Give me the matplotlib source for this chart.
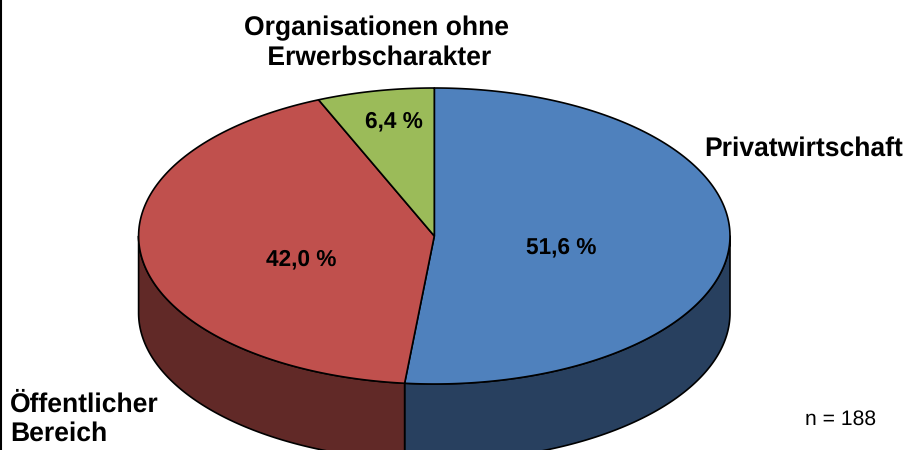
import numpy as np
import matplotlib
matplotlib.use('Agg')
import matplotlib.pyplot as plt

plt.rcParams['font.family'] = ['Liberation Sans', 'DejaVu Sans']
plt.rcParams['text.hinting'] = 'none'

# shares in percent, clockwise from 12 o'clock
categories = ['Privatwirtschaft', 'Öffentlicher\nBereich', 'Organisationen ohne\n Erwerbscharakter']
shares = [51.6, 42.0, 6.4]
share_labels = ['51,6 %', '42,0 %', '6,4 %']
top_colors = ['#4F81BD', '#C0504D', '#9BBB59']
side_colors = ['#28405F', '#612927', '#4E5E2D']
note = 'n = 188'

# pie geometry in pixels
CX, CY = 434.3, 236
RX, RY = 295.7, 148
DEPTH = 77


def ell(t):
    # t in degrees, clockwise from the top
    t = np.radians(t)
    return CX + RX * np.sin(t), CY - RY * np.cos(t)


fig = plt.figure(figsize=(9.07, 4.5), dpi=100)
ax = fig.add_axes([0, 0, 1, 1])
ax.set_xlim(0, 907)
ax.set_ylim(450, 0)
ax.axis('off')

edges = np.concatenate([[0], np.cumsum(shares)]) * 3.6

# side wall, only the front half (90..270 deg) can be seen
for i in range(len(shares)):
    a, b = max(edges[i], 90), min(edges[i + 1], 270)
    if b <= a:
        continue
    t = np.linspace(a, b, 200)
    x, y = ell(t)
    ax.fill(np.r_[x, x[::-1]], np.r_[y, y[::-1] + DEPTH],
            facecolor=side_colors[i], edgecolor='black', lw=1.2, joinstyle='round', zorder=2)

# top face
for i in range(len(shares)):
    t = np.linspace(edges[i], edges[i + 1], 300)
    x, y = ell(t)
    ax.fill(np.r_[CX, x], np.r_[CY, y],
            facecolor=top_colors[i], edgecolor='black', lw=1.2, joinstyle='round', zorder=3)

label_pos = [(561, 247), (301, 259), (394, 121)]
for s, (px, py) in zip(share_labels, label_pos):
    ax.text(px, py, s, ha='center', va='center', fontsize=16.3, fontweight='bold', color='black', zorder=5)

ax.text(903.5, 148.5, categories[0], ha='right', va='center', fontsize=19.1, fontweight='bold')
ax.text(10, 419, categories[1], ha='left', va='center', fontsize=19.1, fontweight='bold', linespacing=1.2)
ax.text(376, 43, categories[2], ha='center', va='center', fontsize=19.1, fontweight='bold', linespacing=1.2)
ax.text(840.5, 419, note, ha='center', va='center', fontsize=15.2)

# frame line on the left edge
ax.plot([0.5, 0.5], [0, 450], color='black', lw=1.5, zorder=6, clip_on=False)

fig.savefig('out.png', dpi=100)
